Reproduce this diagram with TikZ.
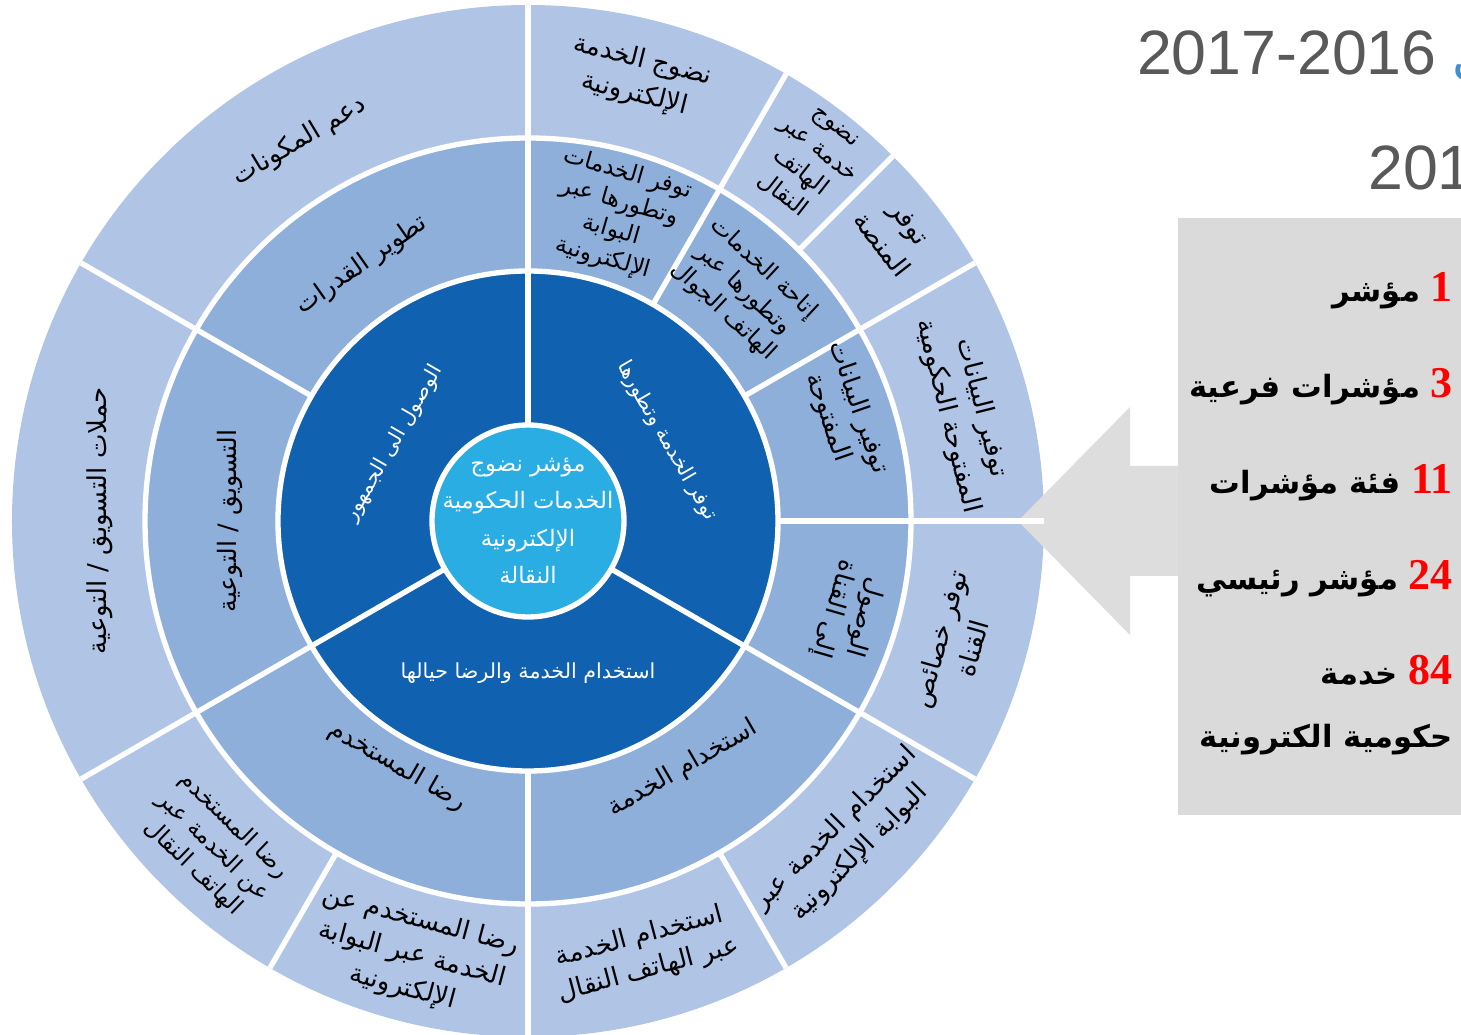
\documentclass[tikz,border=0pt]{standalone}
\usepackage{fontspec}
\setmainfont{Liberation Sans}
\newfontfamily\arabicfont[Script=Arabic]{DejaVu Sans}
\newfontfamily\numfont{Liberation Serif}
\TeXXeTstate=1
\newcommand{\ar}[1]{\beginR#1\endR}
\newcommand{\cnt}[1]{\textcolor{red}{\numfont\bfseries\fontsize{33}{33}\selectfont #1}}
\usetikzlibrary{arrows.meta}
\definecolor{ringA}{HTML}{B0C5E6}
\definecolor{ringB}{HTML}{8FAFDB}
\definecolor{ringC}{HTML}{1061AF}
\definecolor{hub}{HTML}{2AADE3}
\definecolor{panel}{HTML}{DADADA}
\definecolor{pointer}{HTML}{DDDDDD}
\definecolor{yeargray}{HTML}{595959}
\definecolor{fragblue}{HTML}{3A8EDB}
\tikzset{
	>=latex,
	sep/.style={white, line width=4pt},
	outerlbl/.style={font=\arabicfont\fontsize{19.5}{26}\selectfont, align=center, inner sep=0pt},
	tightlbl/.style={outerlbl, font=\arabicfont\fontsize{17.5}{22}\selectfont},
	midlbl/.style={outerlbl, font=\arabicfont\fontsize{19}{24}\selectfont},
	innerlbl/.style={font=\arabicfont\fontsize{15.5}{18}\selectfont, text=white, align=center, inner sep=0pt},
	hublbl/.style={font=\arabicfont\fontsize{17}{28}\selectfont, text=white, align=center, inner sep=0pt},
	countlbl/.style={font=\arabicfont\bfseries\fontsize{23}{26}\selectfont, anchor=base east, inner sep=0pt},
	yearlbl/.style={font=\fontsize{47}{50}\selectfont, text=yeargray, inner sep=0pt}
}

\begin{document}
\begin{tikzpicture}[x=0.75pt, y=0.75pt]
	\useasboundingbox (-528,-514) rectangle (933,521);

	% rings
	\fill[ringA] (0,0) circle[radius=516];
	\fill[ringB] (0,0) circle[radius=383];
	\fill[ringC] (0,0) circle[radius=250];

	% panel with pointer
	\fill[panel] (650,303) rectangle (940,-294);
	\fill[pointer] (490,0) -- (602,114) -- (602,55) -- (650,55) -- (650,-55) -- (602,-55) -- (602,-114) -- cycle;

	% separators
	\draw[sep] (0,0) circle[radius=383];
	\draw[sep] (0,0) circle[radius=250];
	\foreach \a in {90,-30,210}{
		\draw[sep] (\a:96) -- (\a:516);
	}
	\foreach \a in {150,60,30,0,-90}{
		\draw[sep] (\a:250) -- (\a:516);
	}
	\foreach \a in {45,-60,-120}{
		\draw[sep] (\a:383) -- (\a:516);
	}
	\draw[sep, fill=hub] (0,0) circle[radius=96];

	% outer ring
	\node[outerlbl, rotate=-14] (o1) at (76:457) {\ar{نضوج الخدمة}\\\ar{الإلكترونية}};
	\node[tightlbl, rotate=-38] (o2) at (52:455) {\ar{نضوج}\\\ar{خدمة عبر}\\\ar{الهاتف}\\\ar{النقال}};
	\node[outerlbl, rotate=-52] (o3) at (38:466) {\ar{توفر}\\\ar{المنصة}};
	\node[outerlbl, rotate=-76] (o4) at (14:450) {\ar{توفير البيانات}\\\ar{المفتوحة الحكومية}};
	\node[outerlbl, rotate=74] (o5) at (-16:445) {\ar{توفر خصائص}\\\ar{القناة}};
	\node[outerlbl, rotate=45] (o6) at (-45:452) {\ar{استخدام الخدمة عبر}\\\ar{البوابة الإلكترونية}};
	\node[outerlbl, rotate=15] (o7) at (-75:448) {\ar{استخدام الخدمة}\\\ar{عبر الهاتف النقال}};
	\node[outerlbl, rotate=-15] (o8) at (-105:449) {\ar{رضا المستخدم عن}\\\ar{الخدمة عبر البوابة}\\\ar{الإلكترونية}};
	\node[tightlbl, rotate=-44] (o9) at (-134:453) {\ar{رضا المستخدم}\\\ar{عن الخدمة عبر}\\\ar{الهاتف النقال}};
	\node[outerlbl, rotate=90] (o10) at (180:428) {\ar{حملات التسويق / التوعية}};
	\node[outerlbl, rotate=31] (o11) at (121:443) {\ar{دعم المكونات}};

	% middle ring
	\node[tightlbl, rotate=-16] (m1) at (74:317) {\ar{توفر الخدمات}\\\ar{وتطورها عبر}\\\ar{البوابة}\\\ar{الإلكترونية}};
	\node[tightlbl, rotate=-43] (m2) at (47:316) {\ar{إتاحة الخدمات}\\\ar{وتطورها عبر}\\\ar{الهاتف الجوال}};
	\node[midlbl, rotate=-71] (m3) at (19:333) {\ar{توفير البيانات}\\\ar{المفتوحة}};
	\node[midlbl, rotate=-106] (m4) at (-16:334) {\ar{الوصول}\\\ar{إلى القناة}};
	\node[midlbl, rotate=30] (m5) at (-58:292) {\ar{استخدام الخدمة}};
	\node[midlbl, rotate=-30] (m6) at (-118:278) {\ar{رضا المستخدم}};
	\node[midlbl, rotate=90] (m7) at (180:298) {\ar{التسويق / التوعية}};
	\node[midlbl, rotate=35] (m8) at (123:305) {\ar{تطوير القدرات}};

	% inner ring
	\node[innerlbl, rotate=60] (i1) at (150:155) {\ar{الوصول الى الجمهور}};
	\node[innerlbl, rotate=-60] (i2) at (30:160) {\ar{توفر الخدمة وتطورها}};
	\node[innerlbl] (i3) at (-90:152) {\ar{استخدام الخدمة والرضا حيالها}};

	\node[hublbl] (hubtxt) at (0,0) {\ar{مؤشر نضوج}\\\ar{الخدمات الحكومية}\\\ar{الإلكترونية}\\\ar{النقالة}};

	% counts
	\node[countlbl] (c1) at (925,219) {\ar{مؤشر}\ \cnt{1}};
	\node[countlbl] (c2) at (925,123) {\ar{مؤشرات فرعية}\ \cnt{3}};
	\node[countlbl] (c3) at (925,27) {\ar{فئة مؤشرات}\ \cnt{11}};
	\node[countlbl] (c4) at (925,-69) {\ar{مؤشر رئيسي}\ \cnt{24}};
	\node[countlbl] (c5) at (925,-164) {\ar{خدمة}\ \cnt{84}};
	\node[countlbl] (c6) at (925,-226) {\ar{حكومية الكترونية}};

	% heading
	\node[yearlbl, anchor=base east] (yr1) at (909,446) {2017-2016};
	\node[yearlbl, anchor=base west] (yr2) at (840,331) {201};
	\node[anchor=base west, inner sep=0pt, font=\arabicfont\fontsize{40}{40}\selectfont, text=fragblue] (frag) at (924,446) {\ar{في}};

\end{tikzpicture}
\end{document}
